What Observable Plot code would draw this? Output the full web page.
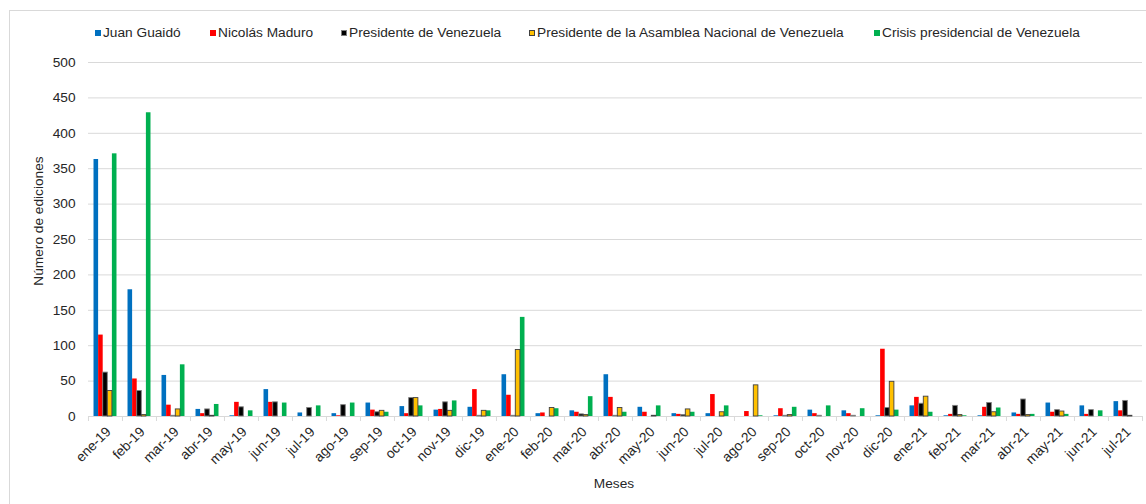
<!DOCTYPE html>
<html>
<head>
<meta charset="utf-8">
<script src="https://cdn.jsdelivr.net/npm/d3@7"></script>
<script src="https://cdn.jsdelivr.net/npm/@observablehq/plot@0.6"></script>
<style>
  html, body { margin: 0; padding: 0; background: #fff; }
  #wrap { position: relative; width: 1146px; height: 504px; overflow: hidden; font-family: "Liberation Sans", Arial, sans-serif; color: #262626; }
  #border { position: absolute; left: 9px; top: 10px; width: 1200px; height: 600px; border-left: 1px solid #d9d9d9; border-top: 1px solid #d9d9d9; }
  .leg { position: absolute; top: 25px; font-size: 13.7px; line-height: 16px; white-space: nowrap; color: #262626; }
  .sw { position: absolute; top: 5px; width: 6px; height: 6px; box-sizing: border-box; }
  .ytitle { position: absolute; left: 38px; top: 221px; transform: translate(-50%, -50%) rotate(-90deg); font-size: 13.7px; white-space: nowrap; color: #262626; }
  .xtitle { position: absolute; left: 614px; top: 483px; transform: translate(-50%, -50%); font-size: 13.7px; white-space: nowrap; color: #262626; }
  #chart { position: absolute; left: 0; top: 0; }
</style>
</head>
<body>
<div id="wrap">
  <div id="border"></div>
  <div id="chart"></div>
  <div id="legend"></div>
  <div class="ytitle">Número de ediciones</div>
  <div class="xtitle">Meses</div>
</div>
<script>
const months = ["ene-19","feb-19","mar-19","abr-19","may-19","jun-19","jul-19","ago-19","sep-19","oct-19","nov-19","dic-19",
  "ene-20","feb-20","mar-20","abr-20","may-20","jun-20","jul-20","ago-20","sep-20","oct-20","nov-20","dic-20",
  "ene-21","feb-21","mar-21","abr-21","may-21","jun-21","jul-21"];

const seriesNames = ["Juan Guaidó","Nicolás Maduro","Presidente de Venezuela","Presidente de la Asamblea Nacional de Venezuela","Crisis presidencial de Venezuela"];
const seriesColors = ["#0070C0","#FF0000","#000000","#FFC000","#00B050"];

const juanGuaido   = [363,179,58,10,1,38,5,4,19,14,9,13, 59,4,8,59,13,4,4,0,1,9,8,1, 15,1,1,5,19,15,21];
const nicolasMaduro= [115,53,16,4,20,20,0,1,9,4,10,38, 30,5,6,27,6,3,31,7,11,4,4,95, 27,3,13,3,6,3,8];
const presidenteVen= [62,36,1,10,13,20,12,16,6,26,20,1, 1,0,3,1,0,2,0,0,1,1,1,12, 18,15,19,24,9,9,22];
const presidenteAN = [36,2,10,1,0,0,0,0,8,26,8,8, 94,12,2,12,1,10,6,44,2,0,0,49, 28,2,6,2,7,0,1];
const crisis       = [371,429,73,17,8,19,15,19,6,15,22,8, 140,11,28,6,15,6,15,1,13,15,11,9, 6,1,12,3,3,8,0];

const yTicks = [0,50,100,150,200,250,300,350,400,450,500];

const seriesValues = [juanGuaido, nicolasMaduro, presidenteVen, presidenteAN, crisis];
const rows = [];
months.forEach((m, i) => seriesNames.forEach((s, k) => rows.push({month: m, series: s, value: seriesValues[k][i]})));

const W = 1146, H = 504, ML = 86, MR = 3, MT = 62, MB = 88;
const outerPad = 1.2;
const facetW = (W - ML - MR) / months.length;
const step = facetW / (seriesNames.length + 2 * outerPad);
const edge = (outerPad + 0.5) * step;

const strokeFor = {"Presidente de Venezuela": "#7f7f7f", "Presidente de la Asamblea Nacional de Venezuela": "#404040"};

const plot = Plot.plot({
  width: W, height: H,
  marginLeft: ML, marginRight: MR, marginTop: MT, marginBottom: MB,
  style: {fontFamily: "'Liberation Sans', Arial, sans-serif", fontSize: "13.7px", color: "#262626", background: "transparent"},
  fx: {domain: months, padding: 0, label: null},
  x: {domain: seriesNames, paddingInner: 0, paddingOuter: outerPad, round: false, axis: null},
  y: {domain: [0, 500], label: null},
  color: {domain: seriesNames, range: seriesColors},
  marks: [
    Plot.gridY(yTicks, {stroke: "#d9d9d9", strokeOpacity: 1}),
    Plot.ruleY([0], {stroke: "#d9d9d9"}),
    Plot.ruleX([0], {x: () => seriesNames[0], y1: () => 0, y2: () => 0, insetBottom: -5, dx: -edge, stroke: "#d9d9d9"}),
    Plot.ruleX([{month: months[months.length - 1]}], {fx: "month", x: () => seriesNames[seriesNames.length - 1], y1: () => 0, y2: () => 0, insetBottom: -5, dx: edge, stroke: "#d9d9d9"}),
    Plot.barY(rows.filter(d => !strokeFor[d.series]), {fx: "month", x: "series", y: "value", fill: "series"}),
    Plot.barY(rows.filter(d => strokeFor[d.series]), {fx: "month", x: "series", y: "value", fill: "series", stroke: d => strokeFor[d.series], strokeWidth: 0.9}),
    Plot.axisY(yTicks, {tickSize: 0, tickPadding: 13, label: null, fill: "#262626"}),
    Plot.axisFx({anchor: "bottom", tickRotate: -45, tickSize: 0, tickPadding: 13, dx: 3, label: null, fill: "#262626"})
  ]
});
document.getElementById("chart").appendChild(plot);

// Legend (HTML)
const legendX = [95, 210, 341, 529, 874];
const legend = document.getElementById("legend");
seriesNames.forEach((s, k) => {
  const item = document.createElement("div");
  item.className = "leg";
  item.style.left = legendX[k] + "px";
  const sw = document.createElement("span");
  sw.className = "sw";
  sw.style.left = "0px";
  sw.style.background = seriesColors[k];
  if (strokeFor[s]) sw.style.border = "1px solid " + strokeFor[s];
  const t = document.createElement("span");
  t.style.marginLeft = "8px";
  t.textContent = s;
  item.appendChild(sw);
  item.appendChild(t);
  legend.appendChild(item);
});
</script>
</body>
</html>
